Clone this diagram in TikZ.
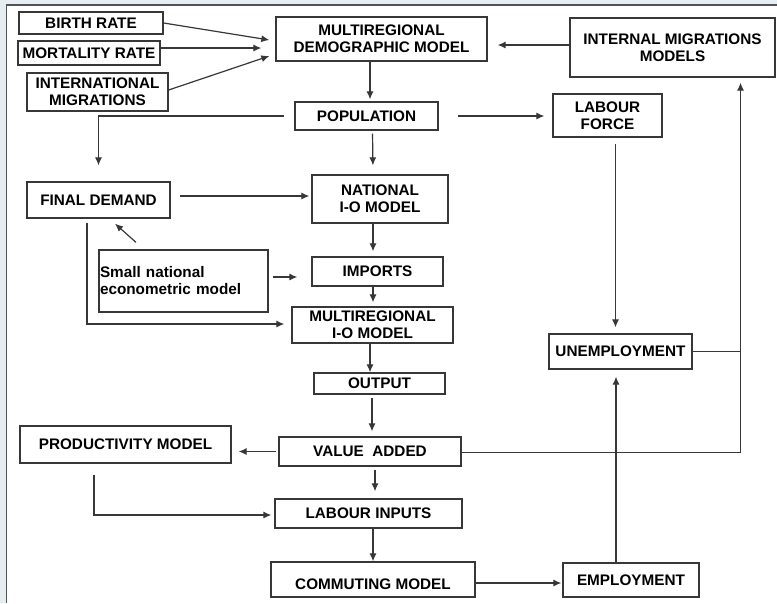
\documentclass[tikz,border=0pt]{standalone}
\usepackage{fontspec}
\setmainfont{Liberation Sans}
\usetikzlibrary{arrows.meta}
\definecolor{linegray}{RGB}{55,55,55}
\definecolor{pagegray}{RGB}{230,237,240}
\definecolor{framegray}{RGB}{80,84,88}

\begin{document}
\begin{tikzpicture}[x=1pt,y=-1pt]
    \tikzstyle{blk}=[rectangle, draw=linegray, line width=1.3pt, align=center, inner sep=1pt,
      font=\fontsize{15.3}{17}\selectfont\bfseries]
    \tikzstyle{arr}=[draw=linegray, line width=1.2pt, -{Latex[length=8pt,width=7pt]}]
    \tikzstyle{link}=[draw=linegray, line width=1.2pt]
    \useasboundingbox (0,0) rectangle (777,603);
    \fill[pagegray] (0,0) rectangle (777,603);
    \fill[white] (7,5) rectangle (777,603);
    \draw[framegray, line width=1.6pt] (6.6,603) -- (6.6,5) -- (777,5);

    \node[blk, minimum width=144pt, minimum height=22pt] (birth) at (91,23) {BIRTH RATE};
    \node[blk, minimum width=142pt, minimum height=24pt] (mort) at (89,53) {MORTALITY RATE};
    \node[blk, minimum width=141pt, minimum height=38pt] (intl) at (97.5,92) {INTERNATIONAL\\MIGRATIONS};
    \node[blk, minimum width=211pt, minimum height=44pt] (demo) at (381.5,39) {MULTIREGIONAL\\DEMOGRAPHIC MODEL};
    \node[blk, minimum width=205pt, minimum height=59pt] (imm) at (672.5,47.5) {INTERNAL MIGRATIONS\\MODELS};
    \node[blk, minimum width=143pt, minimum height=28pt] (pop) at (366.5,116) {POPULATION};
    \node[blk, minimum width=109pt, minimum height=43pt] (lforce) at (607.5,115.5) {LABOUR\\FORCE};
    \node[blk, minimum width=143pt, minimum height=36pt] (fdem) at (98.5,200) {FINAL DEMAND};
    \node[blk, minimum width=136pt, minimum height=48pt] (natl) at (380,199) {NATIONAL\\I-O MODEL};
    \node[blk, minimum width=131pt, minimum height=29pt] (imp) at (377.5,271.5) {IMPORTS};
    \node[blk, text width=167pt, align=left, minimum height=62pt] (small) at (183.5,281) {Small national\\econometric model};
    \node[blk, minimum width=161pt, minimum height=36pt] (mio) at (372.5,325) {MULTIREGIONAL\\I-O MODEL};
    \node[blk, minimum width=143pt, minimum height=35pt] (unemp) at (620.5,351.5) {UNEMPLOYMENT};
    \node[blk, minimum width=131pt, minimum height=21pt] (out) at (379.5,383.5) {OUTPUT};
    \node[blk, minimum width=182pt, minimum height=29pt] (va) at (370,451.5) {VALUE\ \ ADDED};
    \node[blk, minimum width=211pt, minimum height=37pt] (prod) at (125.5,444.5) {PRODUCTIVITY MODEL};
    \node[blk, minimum width=187pt, minimum height=29pt] (lin) at (368.5,513.5) {LABOUR INPUTS};
    \node[blk, minimum width=204pt, minimum height=35pt, text height=20pt, text depth=0pt] (comm) at (373,579.5) {COMMUTING MODEL};
    \node[blk, minimum width=136pt, minimum height=34pt] (emp) at (631,580) {EMPLOYMENT};
    \coordinate (upline) at ([xshift=68pt]imm.south);

    \draw[arr] (birth.east) -- ([xshift=-6pt,yshift=-1pt]demo.west);
    \draw[arr] ([yshift=5pt]mort.east) -- ([xshift=-14pt,yshift=-9pt]demo.west);
    \draw[arr] ([yshift=2pt]intl.east) -- ([xshift=-6pt,yshift=-17pt]demo.west);
    \draw[arr, shorten >=10pt] ([yshift=2.5pt]imm.west) -- ([yshift=2.5pt]imm.west -| demo.east);
    \draw[arr, shorten >=2pt] ([xshift=-11.5pt]demo.south) -- ([xshift=3.5pt]pop.north);
    \draw[arr, shorten <=10pt, shorten >=16pt] (pop.west) -| (fdem.north);
    \draw[arr, shorten <=3pt, shorten >=9pt] ([xshift=6pt]pop.south) -- ([xshift=-7pt]natl.north);
    \draw[arr, shorten <=19pt, shorten >=8pt] (pop.east) -- (pop.east -| lforce.west);
    \draw[arr, shorten <=6pt, shorten >=6pt] ([xshift=8pt]lforce.south) -- ([xshift=-5pt]unemp.north);
    \draw[arr, shorten <=9pt, shorten >=2pt] ([yshift=4pt]fdem.east) -- ([yshift=4pt]fdem.east -| natl.west);
    \draw[arr, shorten >=5pt] ([xshift=-7pt]natl.south) -- ([xshift=-4.5pt]imp.north);
    \draw[arr, shorten >=4pt] ([xshift=-4.5pt]imp.south) -- ([xshift=0.5pt]mio.north);
    \draw[arr] ([xshift=-47.5pt,yshift=7pt]small.north) -- ([xshift=16.5pt,yshift=-5pt]fdem.south);
    \draw[arr, shorten <=4pt, shorten >=14pt] ([yshift=4pt]small.east) -- ([yshift=4pt]small.east -| imp.west);
    \draw[arr, shorten <=4pt, shorten >=7pt] ([xshift=-11.5pt]fdem.south) |- ([yshift=1pt]mio.west);
    \draw[arr] ([xshift=-2.5pt]mio.south) -- ([xshift=-9.5pt]out.north);
    \draw[arr, shorten <=3pt, shorten >=5pt] ([xshift=-7.5pt]out.south) -- ([xshift=2pt]va.north);
    \draw[arr, shorten <=2pt, shorten >=7pt] (va.west) -- (va.west -| prod.east);
    \draw[arr, shorten <=3pt, shorten >=7pt] ([xshift=5pt]va.south) -- ([xshift=6.5pt]lin.north);
    \draw[arr, shorten <=11pt, shorten >=3pt] ([xshift=-31.5pt]prod.south) |- ([yshift=-1.5pt]lin.west);
    \draw[arr] ([xshift=4.5pt]lin.south) -- (comm.north);
    \draw[arr, shorten >=1pt] ([yshift=-3.5pt]comm.east) -- ([yshift=-3.5pt]comm.east -| emp.west);
    \draw[arr, shorten >=7pt] ([xshift=-15pt]emp.north) -- ([xshift=-4.5pt]unemp.south);
    \draw[arr, shorten >=5pt] ([yshift=-1pt]va.east) -| (upline);
    \draw[link] (unemp.east) -- (unemp.east -| upline);
\end{tikzpicture}
\end{document}
